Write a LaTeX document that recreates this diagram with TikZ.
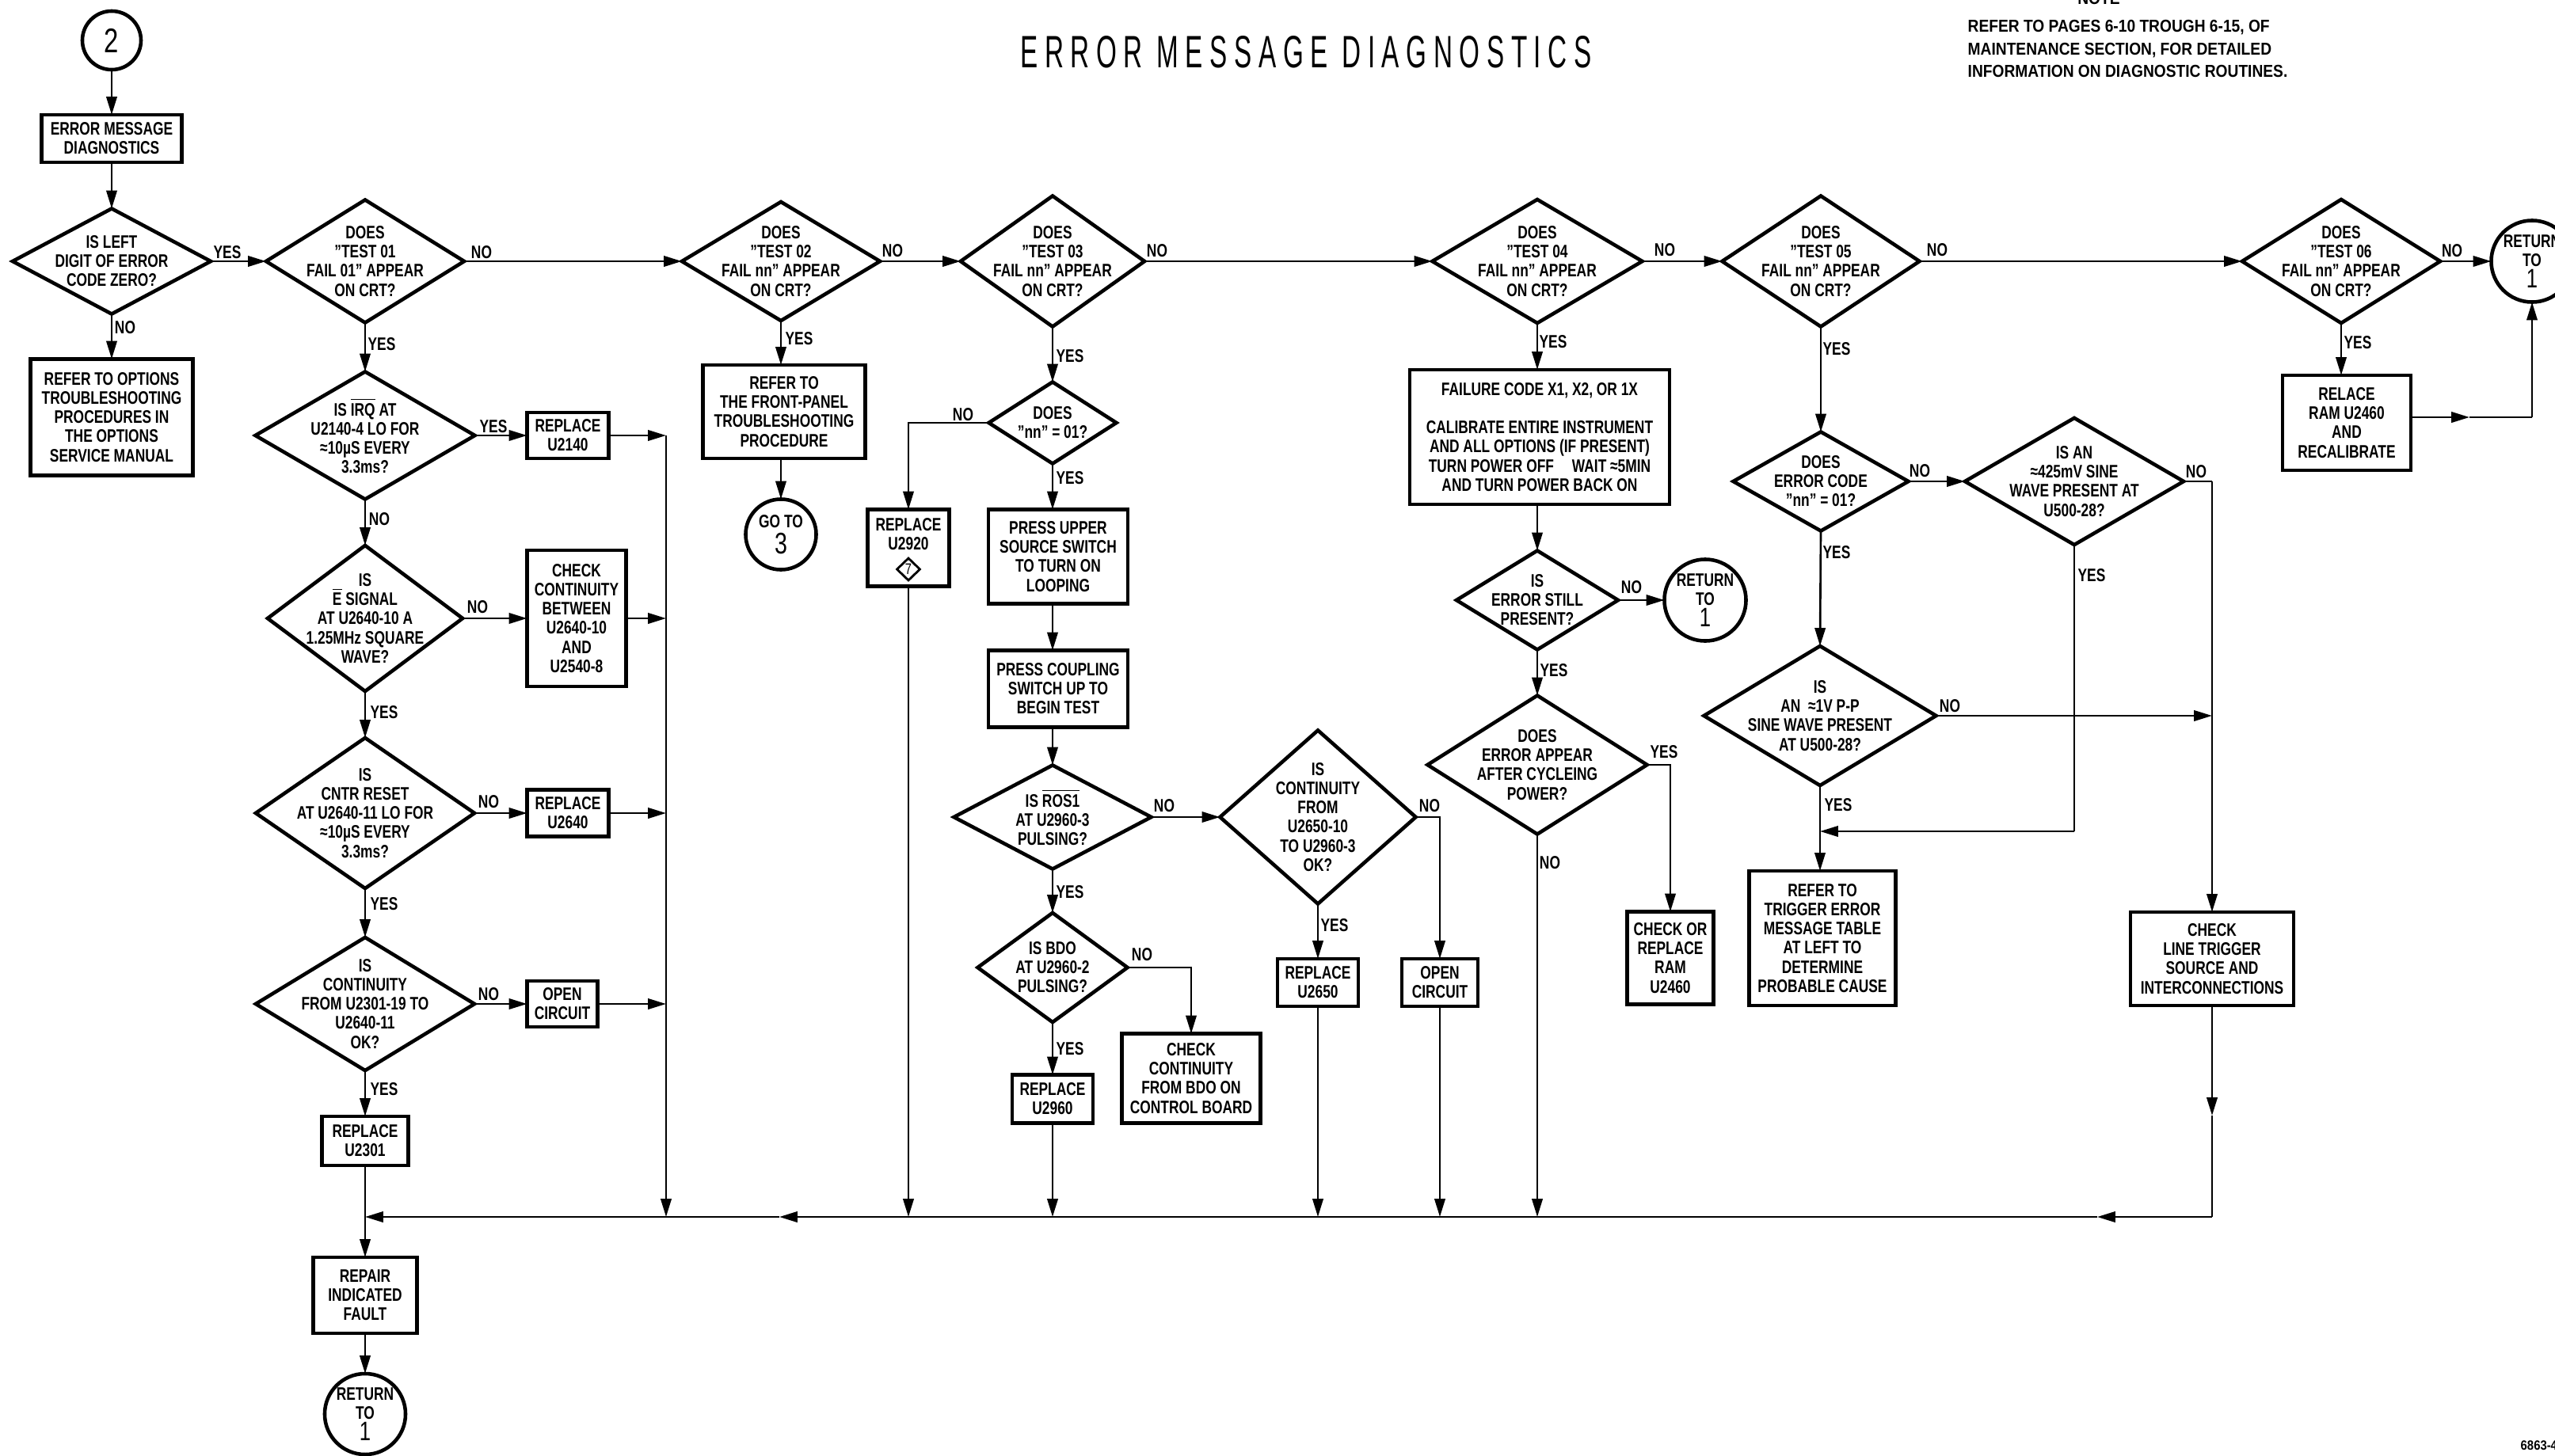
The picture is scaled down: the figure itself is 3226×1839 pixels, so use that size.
\documentclass[tikz,border=0pt]{standalone}
\usepackage{fontspec}
\setmainfont{Liberation Sans}[FakeStretch=0.76]
\newfontfamily\notefont{Liberation Sans}[FakeStretch=0.88]
\newfontfamily\titlefont{Liberation Sans}[FakeStretch=0.58,LetterSpace=15]
\usetikzlibrary{shapes.geometric,arrows.meta}
\newcommand\myfnt{\bfseries\fontsize{6.5pt}{6.85pt}\selectfont}
\newcommand\bigdig{\mdseries\fontsize{9.6pt}{10pt}\selectfont}
\tikzset{
 ln/.style={line width=0.75pt},
 arr/.style={ln,-{Triangle[length=6.5pt,width=3.8pt]}},
 box/.style={draw,line width=1.3pt,rectangle,align=center,inner sep=0pt,outer sep=0pt,font=\myfnt},
 dia/.style={draw,line width=1.3pt,diamond,inner sep=0pt,outer sep=0pt},
 txt/.style={align=center,inner sep=0pt,font=\myfnt},
 lab/.style={inner sep=0pt,font=\myfnt},
 circ/.style={draw,line width=1.3pt,circle,inner sep=0pt,outer sep=0pt,align=center,font=\myfnt},
}
\begin{document}
\begin{tikzpicture}[x=0.01cm,y=-0.01cm]
\useasboundingbox (0,0) rectangle (3226,1839);
% title and note
\node[font=\titlefont\fontsize{16.3pt}{18pt}\selectfont,inner sep=0pt] (title) at (1649,66) {ERROR MESSAGE DIAGNOSTICS};
\node[font=\notefont\bfseries\fontsize{6.2pt}{8pt}\selectfont,inner sep=0pt,anchor=base] (notehd) at (2650,5) {NOTE};
\node[font=\notefont\bfseries\fontsize{6.2pt}{8pt}\selectfont,anchor=north west,align=left,inner sep=0pt] (note) at (2484,25) {REFER TO PAGES 6-10 TROUGH 6-15, OF\\MAINTENANCE SECTION, FOR DETAILED\\INFORMATION ON DIAGNOSTIC ROUTINES.};
\node[font=\notefont\bfseries\fontsize{4.8pt}{5pt}\selectfont,anchor=west,inner sep=0pt] (code) at (3182,1826) {6863-4};

% ---------- left column
\node[circ,minimum size=0.74cm,font=\fontsize{12.3pt}{13pt}\selectfont] (c2) at (141,51) {2};
\node[box,minimum width=1.77cm,minimum height=0.60cm] (emd) at (141,175) {ERROR MESSAGE\\DIAGNOSTICS};
\node[dia,minimum width=2.50cm,minimum height=1.33cm] (d1) at (141,330) {};
\node[txt] (d1t) at (d1) {IS LEFT\\DIGIT OF ERROR\\CODE ZERO?};
\node[box,minimum width=2.05cm,minimum height=1.47cm] (opt) at (141,527) {REFER TO OPTIONS\\TROUBLESHOOTING\\PROCEDURES IN\\THE OPTIONS\\SERVICE MANUAL};

\node[dia,minimum width=2.50cm,minimum height=1.55cm] (d2) at (461,330) {};
\node[txt] (d2t) at (d2) {DOES\\"TEST 01\\FAIL 01" APPEAR\\ON CRT?};
\node[dia,minimum width=2.77cm,minimum height=1.61cm] (dirq) at (461,550) {};
\node[txt] (dirqt) at (dirq) {IS $\overline{\mbox{IRQ}}$ AT\\U2140-4 LO FOR\\≈10µS EVERY\\3.3ms?};
\node[box,minimum width=1.03cm,minimum height=0.58cm] (r2140) at (717,550) {REPLACE\\U2140};
\node[dia,minimum width=2.46cm,minimum height=1.84cm] (de) at (461,781) {};
\node[txt] (det) at (de) {IS\\$\overline{\mbox{E}}$ SIGNAL\\AT U2640-10 A\\1.25MHz SQUARE\\WAVE?};
\node[box,minimum width=1.25cm,minimum height=1.72cm] (chk1) at (728,781) {CHECK\\CONTINUITY\\BETWEEN\\U2640-10\\AND\\U2540-8};
\node[dia,minimum width=2.76cm,minimum height=1.90cm] (dcntr) at (461,1027) {};
\node[txt] (dcntrt) at (dcntr) {IS\\CNTR RESET\\AT U2640-11 LO FOR\\≈10µS EVERY\\3.3ms?};
\node[box,minimum width=1.03cm,minimum height=0.59cm] (r2640) at (717,1027) {REPLACE\\U2640};
\node[dia,minimum width=2.76cm,minimum height=1.68cm] (dcont) at (461,1268) {};
\node[txt] (dcontt) at (dcont) {IS\\CONTINUITY\\FROM U2301-19 TO\\U2640-11\\OK?};
\node[box,minimum width=0.89cm,minimum height=0.58cm] (open1) at (710,1268) {OPEN\\CIRCUIT};
\node[box,minimum width=1.09cm,minimum height=0.62cm] (r2301) at (461,1441) {REPLACE\\U2301};
\node[box,minimum width=1.31cm,minimum height=0.96cm] (repair) at (461,1636) {REPAIR\\INDICATED\\FAULT};
\node[circ,minimum size=1.02cm] (ret1) at (461,1786) {RETURN\\TO\\[1pt]{\bigdig 1}};

% ---------- test 02
\node[dia,minimum width=2.50cm,minimum height=1.50cm] (t02) at (986,330) {};
\node[txt] (t02t) at (t02) {DOES\\"TEST 02\\FAIL nn" APPEAR\\ON CRT?};
\node[box,minimum width=2.05cm,minimum height=1.18cm] (front) at (990,520) {REFER TO\\THE FRONT-PANEL\\TROUBLESHOOTING\\PROCEDURE};
\node[circ,minimum size=0.89cm] (go3) at (986,675) {GO TO\\[1pt]{\mdseries\fontsize{10.7pt}{11pt}\selectfont 3}};

% ---------- test 03
\node[dia,minimum width=2.32cm,minimum height=1.65cm] (t03) at (1329,330) {};
\node[txt] (t03t) at (t03) {DOES\\"TEST 03\\FAIL nn" APPEAR\\ON CRT?};
\node[dia,minimum width=1.61cm,minimum height=1.03cm] (dnn) at (1329,534) {};
\node[txt] (dnnt) at (dnn) {DOES\\"nn" = 01?};
\node[box,minimum width=1.03cm,minimum height=0.97cm] (r2920) at (1147,692) {};
\node[txt] (r2920t) at (1147,675) {REPLACE\\U2920};
\node[draw,diamond,line width=0.8pt,minimum width=0.30cm,minimum height=0.29cm,inner sep=0pt,font=\fontsize{5.5pt}{5.5pt}\selectfont] (mark7) at (1147,719) {7};
\node[box,minimum width=1.76cm,minimum height=1.19cm] (press1) at (1336,703) {PRESS UPPER\\SOURCE SWITCH\\TO TURN ON\\LOOPING};
\node[box,minimum width=1.76cm,minimum height=0.97cm] (press2) at (1336,870) {PRESS COUPLING\\SWITCH UP TO\\BEGIN TEST};
\node[dia,minimum width=2.49cm,minimum height=1.31cm] (dros) at (1329,1032) {};
\node[txt] (drost) at (dros) {IS $\overline{\mbox{ROS1}}$\\AT U2960-3\\PULSING?};
\node[dia,minimum width=1.89cm,minimum height=1.38cm] (dbdo) at (1329,1222) {};
\node[txt] (dbdot) at (dbdo) {IS BDO\\AT U2960-2\\PULSING?};
\node[box,minimum width=1.75cm,minimum height=1.13cm] (chkbdo) at (1504,1362) {CHECK\\CONTINUITY\\FROM BDO ON\\CONTROL BOARD};
\node[box,minimum width=1.02cm,minimum height=0.61cm] (r2960) at (1329,1388) {REPLACE\\U2960};
\node[dia,minimum width=2.47cm,minimum height=2.19cm] (dc2) at (1664,1032) {};
\node[txt] (dc2t) at (dc2) {IS\\CONTINUITY\\FROM\\U2650-10\\TO U2960-3\\OK?};
\node[box,minimum width=1.02cm,minimum height=0.60cm] (r2650) at (1664,1241) {REPLACE\\U2650};
\node[box,minimum width=0.96cm,minimum height=0.60cm] (open2) at (1818,1241) {OPEN\\CIRCUIT};

% ---------- test 04
\node[dia,minimum width=2.65cm,minimum height=1.56cm] (t04) at (1941,330) {};
\node[txt] (t04t) at (t04) {DOES\\"TEST 04\\FAIL nn" APPEAR\\ON CRT?};
\node[box,minimum width=3.28cm,minimum height=1.70cm] (fail) at (1944,552) {FAILURE CODE X1, X2, OR 1X\\[6.85pt]CALIBRATE ENTIRE INSTRUMENT\\AND ALL OPTIONS (IF PRESENT)\\TURN POWER OFF\quad WAIT ≈5MIN\\AND TURN POWER BACK ON};
\node[dia,minimum width=2.04cm,minimum height=1.25cm] (des) at (1941,758) {};
\node[txt] (dest) at (des) {IS\\ERROR STILL\\PRESENT?};
\node[circ,minimum size=1.03cm] (ret2) at (2153,758) {RETURN\\TO\\[1pt]{\bigdig 1}};
\node[dia,minimum width=2.77cm,minimum height=1.75cm] (dea) at (1941,966) {};
\node[txt] (deat) at (dea) {DOES\\ERROR APPEAR\\AFTER CYCLEING\\POWER?};
\node[box,minimum width=1.09cm,minimum height=1.17cm] (ram) at (2109,1210) {CHECK OR\\REPLACE\\RAM\\U2460};

% ---------- test 05
\node[dia,minimum width=2.49cm,minimum height=1.65cm] (t05) at (2299,330) {};
\node[txt] (t05t) at (t05) {DOES\\"TEST 05\\FAIL nn" APPEAR\\ON CRT?};
\node[dia,minimum width=2.21cm,minimum height=1.25cm] (dec) at (2299,608) {};
\node[txt] (dect) at (dec) {DOES\\ERROR CODE\\"nn" = 01?};
\node[dia,minimum width=2.76cm,minimum height=1.60cm] (d425) at (2619,608) {};
\node[txt] (d425t) at (d425) {IS AN\\≈425mV SINE\\WAVE PRESENT AT\\U500-28?};
\node[dia,minimum width=2.93cm,minimum height=1.76cm] (d1v) at (2298,904) {};
\node[txt] (d1vt) at (d1v) {IS\\AN\ \ ≈1V P-P\\SINE WAVE PRESENT\\AT U500-28?};
\node[box,minimum width=1.85cm,minimum height=1.70cm] (trig) at (2301,1185) {REFER TO\\TRIGGER ERROR\\MESSAGE TABLE\\AT LEFT TO\\DETERMINE\\PROBABLE CAUSE};
\node[box,minimum width=2.06cm,minimum height=1.18cm] (ltrig) at (2793,1211) {CHECK\\LINE TRIGGER\\SOURCE AND\\INTERCONNECTIONS};

% ---------- test 06
\node[dia,minimum width=2.50cm,minimum height=1.56cm] (t06) at (2956,330) {};
\node[txt] (t06t) at (t06) {DOES\\"TEST 06\\FAIL nn" APPEAR\\ON CRT?};
\node[circ,minimum size=1.03cm] (ret3) at (3197,330) {RETURN\\TO\\[1pt]{\bigdig 1}};
\node[box,minimum width=1.62cm,minimum height=1.20cm] (relace) at (2963,534) {RELACE\\RAM U2460\\AND\\RECALIBRATE};

% ---------- coordinates
\coordinate (vtop) at (841,550);
\coordinate (busy) at (1000,1537);
\coordinate (bL) at (461,1537);
\coordinate (bm2) at (984,1537);
\coordinate (bm1) at (2648,1537);
\coordinate (bR) at (2793,1537);
\coordinate (lmid) at (2793,1409);
\coordinate (j425) at (2793,608);
\coordinate (k425) at (2619,1050);
\coordinate (rm) at (3118,527);
\coordinate (rc) at (3197,527);

% ---------- connectors: left
\draw[arr] (c2.south) -- (emd.north);
\draw[arr] (emd.south) -- (d1.north);
\draw[arr] (d1.east) -- (d2.west);
\draw[arr] (d1.south) -- (opt.north);
\draw[arr] (d2.south) -- (dirq.north);
\draw[arr] (dirq.east) -- (r2140.west);
\draw[arr] (r2140.east) -- (vtop);
\draw[arr] (vtop) -- (vtop |- busy);
\draw[arr] (chk1.east) -- (chk1.east -| vtop);
\draw[arr] (r2640.east) -- (r2640.east -| vtop);
\draw[arr] (open1.east) -- (open1.east -| vtop);
\draw[arr] (dirq.south) -- (de.north);
\draw[arr] (de.east) -- (chk1.west);
\draw[arr] (de.south) -- (dcntr.north);
\draw[arr] (dcntr.east) -- (r2640.west);
\draw[arr] (dcntr.south) -- (dcont.north);
\draw[arr] (dcont.east) -- (open1.west);
\draw[arr] (dcont.south) -- (r2301.north);
\draw[arr] (r2301.south) -- (repair.north);
\draw[arr] (repair.south) -- (ret1.north);
% top row
\draw[arr] (d2.east) -- (t02.west);
\draw[arr] (t02.east) -- (t03.west);
\draw[arr] (t03.east) -- (t04.west);
\draw[arr] (t04.east) -- (t05.west);
\draw[arr] (t05.east) -- (t06.west);
\draw[arr] (t06.east) -- (ret3.west);
% test 02
\draw[arr] (t02.south) -- (t02.south |- front.north);
\draw[arr] (front.south -| go3.north) -- (go3.north);
% test 03
\draw[arr] (t03.south) -- (dnn.north);
\draw[arr] (dnn.west) -| (r2920.north);
\draw[arr] (dnn.south) -- (dnn.south |- press1.north);
\draw[arr] (dnn.south |- press1.south) -- (dnn.south |- press2.north);
\draw[arr] (dnn.south |- press2.south) -- (dros.north);
\draw[arr] (dros.east) -- (dc2.west);
\draw[arr] (dros.south) -- (dbdo.north);
\draw[arr] (dbdo.east) -| (chkbdo.north);
\draw[arr] (dbdo.south) -- (r2960.north);
\draw[arr] (dc2.south) -- (r2650.north);
\draw[arr] (dc2.east) -| (open2.north);
\draw[arr] (r2920.south) -- (r2920.south |- busy);
\draw[arr] (r2960.south) -- (r2960.south |- busy);
\draw[arr] (r2650.south) -- (r2650.south |- busy);
\draw[arr] (open2.south) -- (open2.south |- busy);
% test 04
\draw[arr] (t04.south) -- (t04.south |- fail.north);
\draw[arr] (t04.south |- fail.south) -- (des.north);
\draw[arr] (des.east) -- (ret2.west);
\draw[arr] (des.south) -- (dea.north);
\draw[arr] (dea.east) -| (ram.north);
\draw[arr] (dea.south) -- (dea.south |- busy);
% test 05
\draw[arr] (t05.south) -- (dec.north);
\draw[arr] (dec.east) -- (d425.west);
\draw[arr] (dec.south) -- (d1v.north);
\draw[ln] (d425.east) -- (j425);
\draw[arr] (j425) -- (ltrig.north);
\draw[arr] (d1v.east) -- (d1v.east -| ltrig.north);
\draw[arr] (d1v.south) -- (d1v.south |- trig.north);
\draw[ln] (d425.south) -- (k425);
\draw[arr] (k425) -- (k425 -| d1v.south);
\draw[arr] (ltrig.south) -- (lmid);
\draw[ln] (lmid) -- (bR);
% bus
\draw[arr] (bR) -- (bm1);
\draw[arr] (bm1) -- (bm2);
\draw[arr] (bm2) -- (bL);
% test 06
\draw[arr] (t06.south) -- (t06.south |- relace.north);
\draw[arr] (relace.east |- rm) -- (rm);
\draw[ln] (rm) -- (rc);
\draw[arr] (rc) -- (ret3.south);

% ---------- labels
\node[lab] (l01) at (287,319) {YES};
\node[lab] (l02) at (608,319) {NO};
\node[lab] (l03) at (158,414) {NO};
\node[lab] (l04) at (482,435) {YES};
\node[lab] (l05) at (623,539) {YES};
\node[lab] (l06) at (479,656) {NO};
\node[lab] (l07) at (603,767) {NO};
\node[lab] (l08) at (485,900) {YES};
\node[lab] (l09) at (617,1013) {NO};
\node[lab] (l10) at (485,1142) {YES};
\node[lab] (l11) at (617,1256) {NO};
\node[lab] (l12) at (485,1376) {YES};
\node[lab] (l13) at (1009,428) {YES};
\node[lab] (l14) at (1127,317) {NO};
\node[lab] (l15) at (1461,317) {NO};
\node[lab] (l16) at (1351,450) {YES};
\node[lab] (l17) at (1216,524) {NO};
\node[lab] (l18) at (1351,604) {YES};
\node[lab] (l19) at (1470,1018) {NO};
\node[lab] (l20) at (1351,1127) {YES};
\node[lab] (l21) at (1442,1206) {NO};
\node[lab] (l22) at (1351,1325) {YES};
\node[lab] (l23) at (1685,1169) {YES};
\node[lab] (l24) at (1805,1018) {NO};
\node[lab] (l25) at (2102,316) {NO};
\node[lab] (l26) at (1961,432) {YES};
\node[lab] (l27) at (2060,742) {NO};
\node[lab] (l28) at (1962,847) {YES};
\node[lab] (l29) at (2101,950) {YES};
\node[lab] (l30) at (1957,1090) {NO};
\node[lab] (l31) at (2446,316) {NO};
\node[lab] (l32) at (2319,441) {YES};
\node[lab] (l33) at (2424,595) {NO};
\node[lab] (l34) at (2319,698) {YES};
\node[lab] (l35) at (2773,596) {NO};
\node[lab] (l36) at (2641,727) {YES};
\node[lab] (l37) at (2462,892) {NO};
\node[lab] (l38) at (2321,1017) {YES};
\node[lab] (l39) at (3096,317) {NO};
\node[lab] (l40) at (2977,433) {YES};
\end{tikzpicture}
\end{document}
